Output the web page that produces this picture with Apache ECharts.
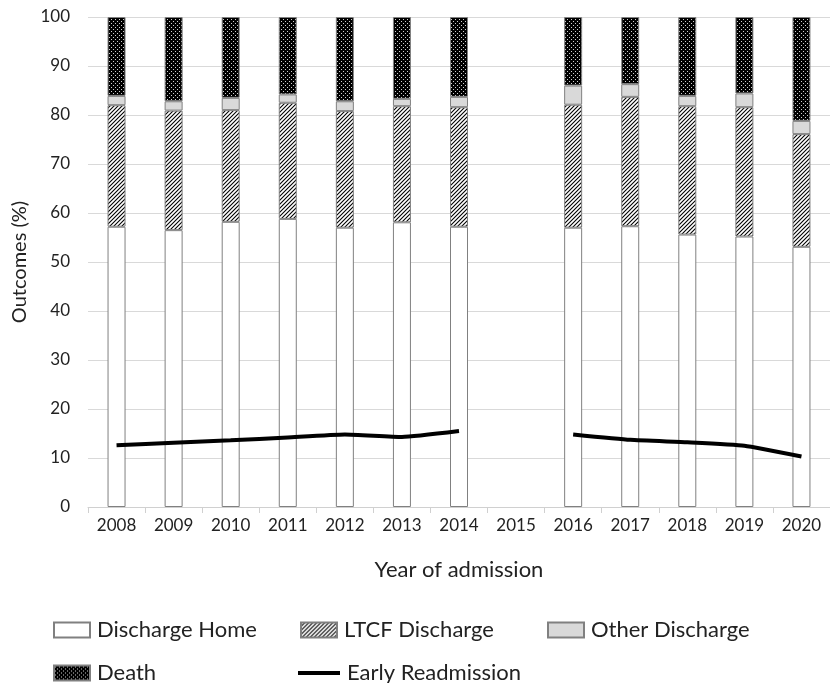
<!DOCTYPE html>
<html>
<head>
<meta charset="utf-8">
<script src="https://cdn.jsdelivr.net/npm/echarts@6/dist/echarts.min.js"></script>
<style>html,body{margin:0;padding:0;background:#fff}#c{width:830px;height:683px}</style>
</head>
<body>
<div id="c"></div>
<script>
const years = ['2008','2009','2010','2011','2012','2013','2014','2015','2016','2017','2018','2019','2020'];
const dischargeHome = [57.2, 56.5, 58.2, 58.8, 57.0, 58.1, 57.2, null, 57.0, 57.3, 55.6, 55.2, 53.1];
const ltcfDischarge = [24.8, 24.4, 22.8, 23.7, 23.8, 23.7, 24.4, null, 25.1, 26.4, 26.2, 26.4, 23.0];
const otherDischarge = [1.9, 1.9, 2.5, 1.7, 2.0, 1.5, 2.1, null, 3.9, 2.6, 2.1, 2.8, 2.7];
const death = [16.1, 17.2, 16.5, 15.8, 17.2, 16.7, 16.3, null, 14.0, 13.7, 16.1, 15.6, 21.2];
const earlyReadmission = [12.6, 13.1, 13.6, 14.2, 14.8, 14.3, 15.5, null, 14.8, 13.7, 13.2, 12.5, 10.3];
const yTicks = [0,10,20,30,40,50,60,70,80,90,100];

function hatch(){
  const c = document.createElement('canvas'); c.width = 4; c.height = 4;
  const g = c.getContext('2d');
  g.fillStyle = '#fff'; g.fillRect(0,0,4,4);
  g.strokeStyle = '#000'; g.lineWidth = 1.1;
  g.beginPath();
  g.moveTo(-1,5); g.lineTo(5,-1);
  g.moveTo(-1,1); g.lineTo(1,-1);
  g.moveTo(3,5); g.lineTo(5,3);
  g.stroke();
  return c;
}
function dots(){
  const c = document.createElement('canvas'); c.width = 4; c.height = 4;
  const g = c.getContext('2d');
  g.fillStyle = '#000'; g.fillRect(0,0,4,4);
  g.fillStyle = '#cfcfcf'; g.fillRect(1,1,1,1);
  g.fillRect(3,3,1,1);
  return c;
}
const hatchPat = {image: hatch(), repeat: 'repeat'};
const dotPat = {image: dots(), repeat: 'repeat'};
const font = 'Lato, "Open Sans", sans-serif';
const border = '#808080';

const chart = echarts.init(document.getElementById('c'));
function barSeries(name, data, color){
  return {name, type:'bar', stack:'o', data, barWidth:18,
    itemStyle:{color, borderColor:border, borderWidth:1}, emphasis:{disabled:true}};
}
function legendAt(name, left, top, extra){
  return Object.assign({data:[name], left, top, icon:'rect', itemWidth:36, itemHeight:15, itemGap:0,
    textStyle:{fontFamily:font, fontSize:22, color:'#222', padding:[0,0,0,2]}, selectedMode:false}, extra||{});
}
chart.setOption({
  animation:false,
  textStyle:{fontFamily:font},
  grid:{left:88, top:17, width:750, height:490, containLabel:false},
  legend:[
    legendAt('Discharge Home', 48, 614),
    legendAt('LTCF Discharge', 295, 614),
    legendAt('Other Discharge', 542, 614),
    legendAt('Death', 48, 657),
    legendAt('Early Readmission', 293, 657, {itemWidth:42, itemHeight:4})
  ],
  xAxis:{type:'category', data:years, boundaryGap:true,
    name:'Year of admission', nameLocation:'middle', nameGap:52,
    nameTextStyle:{fontFamily:font, fontSize:22, color:'#222'},
    axisLine:{lineStyle:{color:'#d0d0d0', width:1}},
    axisTick:{show:true, length:6, lineStyle:{color:'#d0d0d0'}},
    axisLabel:{fontFamily:font, fontSize:17, color:'#222', margin:10}},
  yAxis:{type:'value', min:0, max:100, interval:10,
    name:'Outcomes (%)', nameLocation:'middle', nameGap:58,
    nameTextStyle:{fontFamily:font, fontSize:20, color:'#222'},
    axisLine:{show:false}, axisTick:{show:false},
    axisLabel:{fontFamily:font, fontSize:17, color:'#222', margin:18,
      formatter:v=> yTicks.includes(v) ? String(v) : ''},
    splitLine:{lineStyle:{color:'#d9d9d9', width:1}}},
  series:[
    barSeries('Discharge Home', dischargeHome, '#ffffff'),
    barSeries('LTCF Discharge', ltcfDischarge, hatchPat),
    barSeries('Other Discharge', otherDischarge, '#d9d9d9'),
    barSeries('Death', death, dotPat),
    {name:'Early Readmission', type:'line', data:earlyReadmission, symbol:'none', smooth:0.15,
      connectNulls:false, lineStyle:{color:'#000', width:4}, itemStyle:{color:'#000'}, z:5}
  ]
});
</script>
</body>
</html>
